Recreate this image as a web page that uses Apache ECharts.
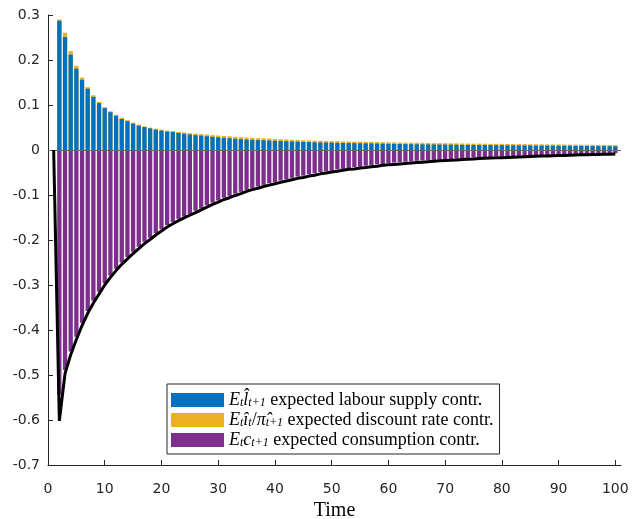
<!DOCTYPE html>
<html>
<head>
<meta charset="utf-8">
<script src="https://cdn.jsdelivr.net/npm/echarts@6/dist/echarts.min.js"></script>
<style>html,body{margin:0;padding:0;background:#fff}#c{width:632px;height:519px}</style>
</head>
<body>
<div id="c"></div>
<script>
// Periods for the bar contributions (t = 2..100)
const barPeriods = [2,3,4,5,6,7,8,9,10,11,12,13,14,15,16,17,18,19,20,21,22,23,24,25,26,27,28,29,30,31,32,33,34,35,36,37,38,39,40,41,42,43,44,45,46,47,48,49,50,51,52,53,54,55,56,57,58,59,60,61,62,63,64,65,66,67,68,69,70,71,72,73,74,75,76,77,78,79,80,81,82,83,84,85,86,87,88,89,90,91,92,93,94,95,96,97,98,99,100];

// E_t l_{t+1}: expected labour supply contribution
const labour = [0.287,0.251,0.212,0.181,0.156,0.136,0.118,0.104,0.093,0.084,0.076,0.069,0.064,0.0585,0.054,0.051,0.048,0.0452,0.043,0.041,0.040,0.038,0.036,0.0345,0.033,0.0318,0.0305,0.0292,0.028,0.027,0.026,0.0248,0.024,0.0232,0.0226,0.022,0.0218,0.0212,0.0205,0.0199,0.0194,0.0189,0.0185,0.018,0.0176,0.0172,0.0168,0.0165,0.0162,0.0159,0.0156,0.0154,0.0152,0.015,0.0148,0.0146,0.0143,0.014,0.0137,0.0135,0.0133,0.0131,0.013,0.0128,0.0126,0.0124,0.0122,0.0121,0.0119,0.0118,0.0116,0.0115,0.0113,0.0112,0.011,0.0109,0.0108,0.0106,0.0105,0.0104,0.0103,0.0102,0.01,0.0099,0.0098,0.0097,0.0096,0.0095,0.0094,0.0093,0.0092,0.0091,0.009,0.0089,0.0087,0.0086,0.0085,0.0084,0.0082];

// E_t i_t / pi_{t+1}: expected discount rate contribution
const discount = [0.003,0.0096,0.008,0.006,0.005,0.0037,0.0037,0.003,0.0023,0.0022,0.0022,0.0022,0.0023,0.0022,0.0023,0.0015,0.0016,0.0022,0.0022,0.002,0.002,0.002,0.003,0.003,0.0035,0.0038,0.004,0.004,0.0042,0.0043,0.0044,0.0045,0.0045,0.0045,0.0045,0.0044,0.0044,0.0044,0.0042,0.004,0.004,0.0039,0.0038,0.0038,0.0037,0.0037,0.0037,0.0036,0.0036,0.0036,0.0035,0.0035,0.0035,0.0035,0.0035,0.0034,0.0034,0.0034,0.0034,0.0034,0.0034,0.0033,0.0033,0.0033,0.0033,0.0033,0.0032,0.0032,0.0032,0.0032,0.0032,0.0031,0.0031,0.0031,0.0031,0.0031,0.003,0.003,0.003,0.003,0.003,0.003,0.003,0.0029,0.0029,0.0029,0.0029,0.0029,0.0029,0.0029,0.0028,0.0028,0.0028,0.0028,0.0028,0.0028,0.0028,0.0028,0.0028];

// E_t c_{t+1}: expected consumption contribution
const consumption = [-0.544,-0.489,-0.448,-0.415,-0.384,-0.358,-0.335,-0.315,-0.296,-0.279,-0.264,-0.25,-0.238,-0.226,-0.215,-0.204,-0.195,-0.185,-0.176,-0.167,-0.16,-0.153,-0.148,-0.142,-0.135,-0.13,-0.123,-0.117,-0.112,-0.106,-0.102,-0.097,-0.093,-0.0886,-0.085,-0.081,-0.0775,-0.074,-0.071,-0.068,-0.065,-0.062,-0.059,-0.057,-0.054,-0.052,-0.049,-0.047,-0.046,-0.043,-0.042,-0.04,-0.038,-0.037,-0.035,-0.034,-0.032,-0.031,-0.029,-0.028,-0.027,-0.026,-0.025,-0.024,-0.0235,-0.023,-0.022,-0.021,-0.0205,-0.02,-0.019,-0.0185,-0.018,-0.0172,-0.0166,-0.016,-0.0155,-0.015,-0.0145,-0.014,-0.0135,-0.013,-0.0126,-0.0122,-0.0118,-0.0114,-0.011,-0.0106,-0.0102,-0.0098,-0.0095,-0.0092,-0.0089,-0.0086,-0.0083,-0.008,-0.0077,-0.0074,-0.0071];

// Consumption response (black line), t = 1..100
const linePeriods = [1,2,3,4,5,6,7,8,9,10,11,12,13,14,15,16,17,18,19,20,21,22,23,24,25,26,27,28,29,30,31,32,33,34,35,36,37,38,39,40,41,42,43,44,45,46,47,48,49,50,51,52,53,54,55,56,57,58,59,60,61,62,63,64,65,66,67,68,69,70,71,72,73,74,75,76,77,78,79,80,81,82,83,84,85,86,87,88,89,90,91,92,93,94,95,96,97,98,99,100];
const consumptionPath = [0,-0.602,-0.497,-0.455,-0.421,-0.39,-0.363,-0.34,-0.32,-0.3,-0.283,-0.268,-0.254,-0.242,-0.23,-0.219,-0.208,-0.199,-0.189,-0.18,-0.171,-0.164,-0.157,-0.151,-0.145,-0.139,-0.133,-0.127,-0.121,-0.116,-0.11,-0.106,-0.101,-0.097,-0.092,-0.088,-0.085,-0.081,-0.078,-0.075,-0.072,-0.069,-0.066,-0.063,-0.061,-0.058,-0.056,-0.053,-0.051,-0.049,-0.047,-0.045,-0.043,-0.042,-0.04,-0.039,-0.037,-0.036,-0.034,-0.033,-0.032,-0.031,-0.03,-0.029,-0.028,-0.027,-0.026,-0.025,-0.024,-0.0235,-0.023,-0.022,-0.021,-0.0205,-0.02,-0.019,-0.0185,-0.018,-0.0175,-0.017,-0.0165,-0.016,-0.0155,-0.015,-0.0145,-0.014,-0.0136,-0.0132,-0.0128,-0.0124,-0.012,-0.0116,-0.0112,-0.0108,-0.0105,-0.0102,-0.0099,-0.0096,-0.0093,-0.009];

// Tick values
const xTicks = [0,10,20,30,40,50,60,70,80,90,100];
const yTicks = [-0.7,-0.6,-0.5,-0.4,-0.3,-0.2,-0.1,0,0.1,0.2,0.3];

const seriesNames = ['labour', 'discount', 'consumption'];
const legendText = {
  labour: '{m|E}{s|t}{m|l\u0302}{s|t+1}{n| expected labour supply contr.}',
  discount: '{m|E}{s|t}{m|\u00ee}{s|t}{n|/}{m|\u03c0\u0302}{s|t+1}{n| expected discount rate contr.}',
  consumption: '{m|E}{s|t}{m|c}{s|t+1}{n| expected consumption contr.}'
};

const zip = (xs, ys) => xs.map((x, i) => [x, ys[i]]);
// stacked top of the positive bars (labour + discount), drawn behind the labour bars
const positiveTop = labour.map((v, i) => v + discount[i]);

const axisColor = '#262626';
const serif = '"Liberation Serif", "DejaVu Serif", serif';
const sans = '"DejaVu Sans", sans-serif';

const chart = echarts.init(document.getElementById('c'), null, {renderer: 'canvas'});
chart.setOption({
  animation: false,
  backgroundColor: '#ffffff',
  grid: {left: 48, right: 11, top: 15, bottom: 54, containLabel: false, outerBoundsMode: 'none'},
  xAxis: {
    type: 'value', min: 0, max: 101, interval: 10,
    name: 'Time', nameLocation: 'middle', nameGap: 31,
    nameTextStyle: {fontFamily: serif, fontSize: 20, color: '#000'},
    axisLine: {show: true, onZero: false, lineStyle: {color: axisColor, width: 1}},
    axisTick: {show: true, inside: true, length: 5, lineStyle: {color: axisColor}, customValues: xTicks},
    axisLabel: {fontFamily: sans, fontSize: 14, color: axisColor, margin: 17, customValues: xTicks},
    splitLine: {show: false}
  },
  yAxis: {
    type: 'value', min: -0.7, max: 0.3, interval: 0.1,
    axisLine: {show: true, onZero: false, lineStyle: {color: axisColor, width: 1}},
    axisTick: {show: true, inside: true, length: 5, lineStyle: {color: axisColor}, customValues: yTicks},
    axisLabel: {fontFamily: sans, fontSize: 14, color: axisColor, margin: 8, customValues: yTicks,
      formatter: v => String(Math.round(v * 10) / 10)},
    splitLine: {show: false}
  },
  legend: {
    orient: 'vertical', left: 167, top: 384,
    data: seriesNames,
    backgroundColor: '#ffffff', borderColor: '#262626', borderWidth: 1,
    padding: [7, 6, 5, 4],
    itemWidth: 53, itemHeight: 14, itemGap: 2,
    icon: 'rect',
    formatter: name => legendText[name],
    textStyle: {
      color: '#000', fontFamily: serif, fontSize: 18, lineHeight: 18,
      rich: {
        m: {fontFamily: serif, fontStyle: 'italic', fontSize: 18, lineHeight: 18},
        n: {fontFamily: serif, fontSize: 18, lineHeight: 18},
        s: {fontFamily: serif, fontStyle: 'italic', fontSize: 12, lineHeight: 11, verticalAlign: 'bottom'}
      }
    }
  },
  series: [
    {
      name: 'discount', type: 'bar', barWidth: 4.3, barGap: '-100%',
      itemStyle: {color: '#EDB120'},
      data: zip(barPeriods, positiveTop),
      markLine: {
        silent: true, symbol: 'none', label: {show: false},
        lineStyle: {color: '#666666', width: 1, type: 'solid'},
        data: [{yAxis: 0}]
      }
    },
    {
      name: 'labour', type: 'bar', barWidth: 4.3, barGap: '-100%',
      itemStyle: {color: '#0072BD'},
      data: zip(barPeriods, labour)
    },
    {
      name: 'consumption', type: 'bar', barWidth: 4.3, barGap: '-100%',
      itemStyle: {color: '#7E2F8E'},
      data: zip(barPeriods, consumption)
    },
    {
      name: 'path', type: 'line', showSymbol: false, symbol: 'none', z: 5,
      lineStyle: {color: '#000000', width: 3},
      data: zip(linePeriods, consumptionPath)
    }
  ]
});
</script>
</body>
</html>
